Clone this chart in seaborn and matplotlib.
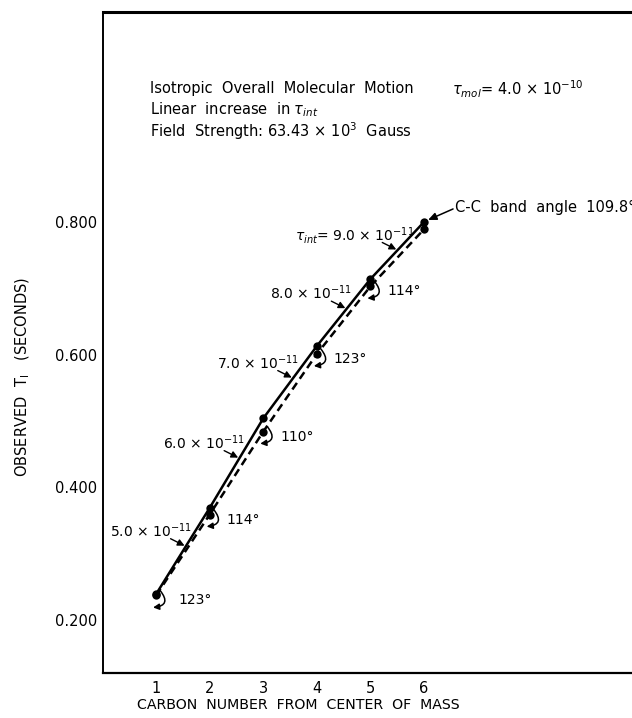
import matplotlib
matplotlib.use("Agg")
import matplotlib.pyplot as plt
import seaborn as sns
import pandas as pd
from matplotlib.patches import FancyArrowPatch
from matplotlib.transforms import IdentityTransform

# ---------------- data ----------------
carbon = [1, 2, 3, 4, 5, 6]
t1_linear = [0.239, 0.369, 0.504, 0.613, 0.714, 0.800]   # solid line
t1_angle = [0.237, 0.359, 0.484, 0.601, 0.703, 0.789]    # dashed line
tau_labels = ["5.0", "6.0", "7.0", "8.0", "9.0"]          # x 10^-11, per segment
angle_labels = ["123°", "114°", "110°", "123°", "114°"]   # at carbons 1..5
y_ticks = [0.200, 0.400, 0.600, 0.800]
x_ticks = [1, 2, 3, 4, 5, 6]

W, H = 632, 718
sns.set_theme(style="white")
plt.rcParams["font.family"] = ["DejaVu Sans"]
plt.rcParams["mathtext.fontset"] = "dejavusans"
plt.rcParams["text.color"] = "black"
plt.rcParams["axes.labelcolor"] = "black"

fig = plt.figure(figsize=(W / 100, H / 100), dpi=100)
ax = fig.add_axes([102.5 / W, 1 - 672.5 / H, 1 - 102.5 / W, (672.5 - 12.3) / H])

df = pd.DataFrame({"carbon": carbon, "linear": t1_linear, "angle": t1_angle})
sns.lineplot(data=df, x="carbon", y="linear", ax=ax, color="black", lw=1.8,
             marker="o", markersize=6, markeredgewidth=0, zorder=3)
sns.lineplot(data=df, x="carbon", y="angle", ax=ax, color="black", lw=1.8,
             linestyle=(0, (3.2, 2.0)), marker="o", markersize=6,
             markeredgewidth=0, zorder=3)

ax.set_xlim(0.0, 9.88)
ax.set_ylim(0.1209, 1.116)
ax.set_xticks(x_ticks)
ax.set_xticklabels([str(v) for v in x_ticks])
ax.set_yticks(y_ticks)
ax.set_yticklabels([f"{v:.3f}" for v in y_ticks])
ax.tick_params(axis="both", direction="in", length=8.5, width=1.1,
               labelsize=10.5, colors="black")
ax.tick_params(axis="x", pad=6)
ax.tick_params(axis="y", pad=4)

ax.spines["right"].set_visible(False)
ax.spines["top"].set_linewidth(2.2)
ax.spines["left"].set_linewidth(1.4)
ax.spines["bottom"].set_linewidth(1.6)
for s in ["top", "left", "bottom"]:
    ax.spines[s].set_color("black")

ax.set_xlabel("CARBON  NUMBER  FROM  CENTER  OF  MASS", fontsize=10.2, color="black",
              va="center")
ax.xaxis.set_label_coords((298 - 102.5) / (W - 102.5), -(705 - 672.5) / (672.5 - 12.3))
ax.set_ylabel(r"OBSERVED  T$_{\mathrm{I}}$   (SECONDS)", fontsize=10.5, color="black",
              va="center")
ax.yaxis.set_label_coords(-(102.5 - 23) / (W - 102.5), (672.5 - 377) / (672.5 - 12.3))


def fig_xy(px, py):
    return (px / W, 1 - py / H)


# header text
fs = 10
hfs = 10.5
fig.text(*fig_xy(150, 89), "Isotropic  Overall  Molecular  Motion", fontsize=hfs, va="center")
fig.text(*fig_xy(452, 89), r"$\tau_{mol}$= 4.0 × 10$^{-10}$", fontsize=hfs, va="center")
fig.text(*fig_xy(150, 110), r"Linear  increase  in $\tau_{int}$", fontsize=hfs, va="center")
fig.text(*fig_xy(150, 131), r"Field  Strength: 63.43 × 10$^{3}$  Gauss", fontsize=hfs, va="center")

fig.canvas.draw()


def disp(x, y):
    return ax.transData.transform((x, y))


# tau annotations along solid line
for i, lab in enumerate(tau_labels):
    f = 0.5 if lab == "9.0" else 0.55
    xm = carbon[i] + f * (carbon[i + 1] - carbon[i])
    ym = t1_linear[i] + f * (t1_linear[i + 1] - t1_linear[i])
    tx, ty = disp(xm, ym)
    arr = FancyArrowPatch((tx - 15, ty + 8), (tx - 1, ty + 1), transform=IdentityTransform(),
                          arrowstyle="-|>,head_length=4,head_width=2",
                          color="black", lw=1.0, shrinkA=0, shrinkB=0)
    fig.add_artist(arr)
    if lab == "9.0":
        txt = r"$\tau_{int}$= " + lab + r" × 10$^{-11}$"
        fig.text((tx - 102) / W, (ty + 15) / H, txt, fontsize=fs, va="center", ha="left")
    else:
        txt = lab + r" × 10$^{-11}$"
        fig.text((tx - 76) / W, (ty + 16) / H, txt, fontsize=fs, va="center", ha="left")

# angle annotations on dashed line
for i, lab in enumerate(angle_labels):
    dx, dy = disp(carbon[i], t1_angle[i])
    off = 22 if i == 0 else 17
    fig.text((dx + off) / W, (dy - 5) / H, lab, fontsize=fs, va="center", ha="left")
    arc = FancyArrowPatch((dx + 4, dy + 5), (dx - 3, dy - 12), transform=IdentityTransform(),
                          connectionstyle="arc3,rad=-0.9",
                          arrowstyle="-|>,head_length=3.5,head_width=1.8",
                          color="black", lw=1.1, shrinkA=0, shrinkB=0)
    fig.add_artist(arc)

# C-C band angle annotation (runs off the right edge, as in the original)
cx, cy = disp(carbon[-1], t1_linear[-1])
fig.add_artist(FancyArrowPatch((cx + 29, cy + 13), (cx + 4, cy + 2), transform=IdentityTransform(),
                               arrowstyle="-|>,head_length=5,head_width=2.2",
                               color="black", lw=1.1, shrinkA=0, shrinkB=0))
fig.text((cx + 31) / W, (cy + 14) / H, "C-C  band  angle  109.8°", fontsize=hfs,
         va="center", ha="left")

fig.savefig("out.png", dpi=100)
